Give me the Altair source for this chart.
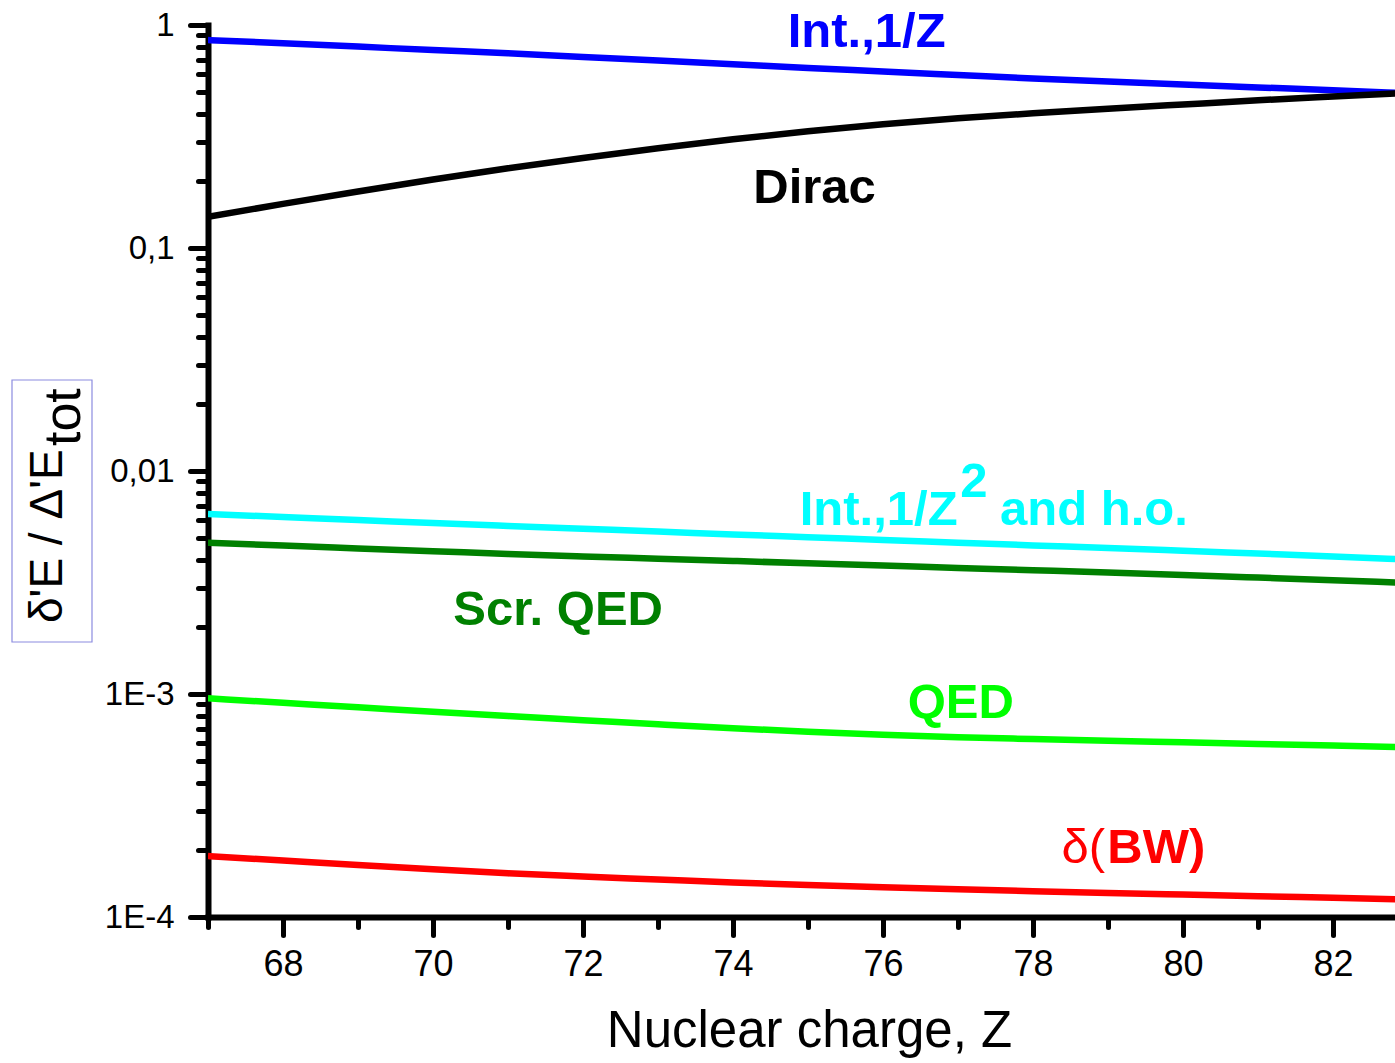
import altair as alt
import pandas as pd

# ---------------- data ----------------
Z = list(range(67, 84))
int_1z = [0.856, 0.828, 0.800, 0.772, 0.747, 0.719, 0.693, 0.667, 0.641, 0.619,
          0.597, 0.576, 0.558, 0.541, 0.525, 0.510, 0.494]
dirac = [0.1381, 0.1577, 0.1792, 0.2028, 0.2279, 0.2535, 0.2800, 0.3072, 0.3337,
         0.3587, 0.3815, 0.4018, 0.4211, 0.4401, 0.4596, 0.4780, 0.4966]
int_1z2 = [0.006414, 0.006218, 0.006030, 0.005840, 0.005668, 0.005506, 0.005350,
           0.005191, 0.005048, 0.004905, 0.004770, 0.004639, 0.004516, 0.004388,
           0.004262, 0.004140, 0.004010]
scr_qed = [0.004770, 0.004629, 0.004497, 0.004369, 0.004245, 0.004140, 0.004044,
           0.003949, 0.003856, 0.003765, 0.003677, 0.003591, 0.003506, 0.003417,
           0.003327, 0.003238, 0.003146]
qed = [0.000956, 0.000913, 0.000872, 0.000832, 0.000796, 0.000763, 0.000731,
       0.000702, 0.000678, 0.000657, 0.000640, 0.000628, 0.000617, 0.000607,
       0.000597, 0.000587, 0.000577]
bw = [0.0001877, 0.0001792, 0.0001711, 0.0001637, 0.0001570, 0.0001519, 0.0001473,
      0.0001428, 0.0001391, 0.0001360, 0.0001331, 0.0001305, 0.0001281, 0.0001260,
      0.0001240, 0.0001219, 0.0001199]

series_names = ["Int.,1/Z", "Dirac", "Int.,1/Z2 and h.o.", "Scr. QED", "QED", "BW"]
series_vals = [int_1z, dirac, int_1z2, scr_qed, qed, bw]
series_colors = ["#0000ff", "#000000", "#00ffff", "#008000", "#00ff00", "#ff0000"]

# curve labels: (text, Z position of left edge, value at baseline, colour)
lab_text = ["Int.,1/Z", "Dirac", "Int.,1/Z", "2", "and h.o.", "Scr. QED", "QED", "BW)"]
lab_z = [74.73, 74.27, 74.89, 77.03, 77.56, 70.27, 76.33, 78.99]
lab_v = [0.797, 0.159, 0.005725, 0.007645, 0.005725, 0.002039, 0.000781, 0.0001746]
lab_color = ["#0000ff", "#000000", "#00ffff", "#00ffff", "#00ffff", "#008000", "#00ff00", "#ff0000"]
reg_text = ["δ("]
reg_z = [78.96]
reg_v = [0.0001746]
reg_color = ["#ff0000"]

x_ticks = list(range(67, 84))
y_major = [1, 0.1, 0.01, 0.001, 0.0001]
y_major_labels = ["1", "0,1", "0,01", "1E-3", "1E-4"]
y_ticks = []
for e in range(-4, 1):
    for k in range(1, 10):
        if e == 0 and k > 1:
            break
        y_ticks.append(k * 10.0 ** e)

# ---------------- tables ----------------
rows = []
for name, vals in zip(series_names, series_vals):
    for z, v in zip(Z, vals):
        rows.append({"Z": z, "v": v, "series": name})
df = pd.DataFrame(rows)
df_lab = pd.DataFrame({"Z": lab_z, "v": lab_v, "t": lab_text, "c": lab_color})
df_reg = pd.DataFrame({"Z": reg_z, "v": reg_v, "t": reg_text, "c": reg_color})
one = pd.DataFrame({"a": [0]})

FONT = "Liberation Sans"

label_arr = "[" + ",".join("'" + s + "'" for s in y_major_labels) + "]"
is_major_y = "abs(log(datum.value)/LN10 - round(log(datum.value)/LN10)) < 1e-6"
y_label_expr = f"{is_major_y} ? {label_arr}[-round(log(datum.value)/LN10)] : ''"

x_scale = alt.Scale(domain=[67, 82.8267], nice=False, zero=False)
y_scale = alt.Scale(type="log", domain=[0.0001, 1], nice=False)

x_axis = alt.Axis(
    values=x_ticks, format="d",
    labelExpr="datum.value % 2 == 0 ? datum.label : ''",
    tickSize={"condition": {"test": "datum.value % 2 == 0", "value": 18}, "value": 10},
    tickWidth=5, tickCap="round", tickColor="black",
    domainWidth=6, domainColor="black", domainCap="square",
    labelFont=FONT, labelFontSize=36, labelPadding=12, labelColor="black",
    labelOverlap=False, labelFlush=False, labelBound=False,
    title="Nuclear charge, Z", titleFont=FONT, titleFontSize=51,
    titleFontWeight="normal", titleColor="black",
    titleX=601, titleY=129, titleBaseline="alphabetic", titleAlign="center",
    grid=False,
)
y_axis = alt.Axis(
    values=y_ticks, labelExpr=y_label_expr,
    tickSize={"condition": {"test": is_major_y, "value": 18}, "value": 10},
    tickWidth=5, tickCap="round", tickColor="black",
    domainWidth=6, domainColor="black", domainCap="square",
    labelFont=FONT, labelFontSize=33, labelPadding=16, labelColor="black",
    labelOverlap=False, labelFlush=False, labelBound=False,
    title=None, grid=False,
)

x_enc = alt.X("Z:Q", scale=x_scale, axis=x_axis)
y_enc = alt.Y("v:Q", scale=y_scale, axis=y_axis)

lines = alt.Chart(df).mark_line(strokeWidth=6.5, clip=True, interpolate="monotone").encode(
    x=x_enc, y=y_enc,
    color=alt.Color("series:N", scale=alt.Scale(domain=series_names, range=series_colors), legend=None),
)

labels_bold = alt.Chart(df_lab).mark_text(
    font=FONT, fontSize=49, fontWeight="bold", align="left", baseline="alphabetic"
).encode(x=x_enc, y=y_enc, text="t:N", color=alt.Color("c:N", scale=None))

labels_reg = alt.Chart(df_reg).mark_text(
    font=FONT, fontSize=49, fontWeight="normal", align="right", baseline="alphabetic"
).encode(x=x_enc, y=y_enc, text="t:N", color=alt.Color("c:N", scale=None))

# y-axis title (framed, with subscript)
ybox = alt.Chart(one).mark_rect(fill="transparent", stroke="#8c8ce0", strokeWidth=1.2).encode(
    x=alt.value(-196), x2=alt.value(-116), y=alt.value(355), y2=alt.value(617)
)
ytitle = alt.Chart(one).mark_text(
    font=FONT, fontSize=46, angle=270, align="left", baseline="alphabetic", color="black"
).encode(x=alt.value(-146), y=alt.value(598), text=alt.value("δ'E / Δ'E"))
ysub = alt.Chart(one).mark_text(
    font=FONT, fontSize=52, angle=270, align="left", baseline="alphabetic", color="black"
).encode(x=alt.value(-128), y=alt.value(421), text=alt.value("tot"))

chart = alt.layer(lines, labels_bold, labels_reg, ybox, ytitle, ysub).properties(
    width=1187, height=892,
    padding={"left": 208, "top": 25, "right": 0, "bottom": 146},
    autosize="none",
).configure_view(strokeWidth=0)

chart.save("out.html", embed_options={"renderer": "svg", "actions": False})
